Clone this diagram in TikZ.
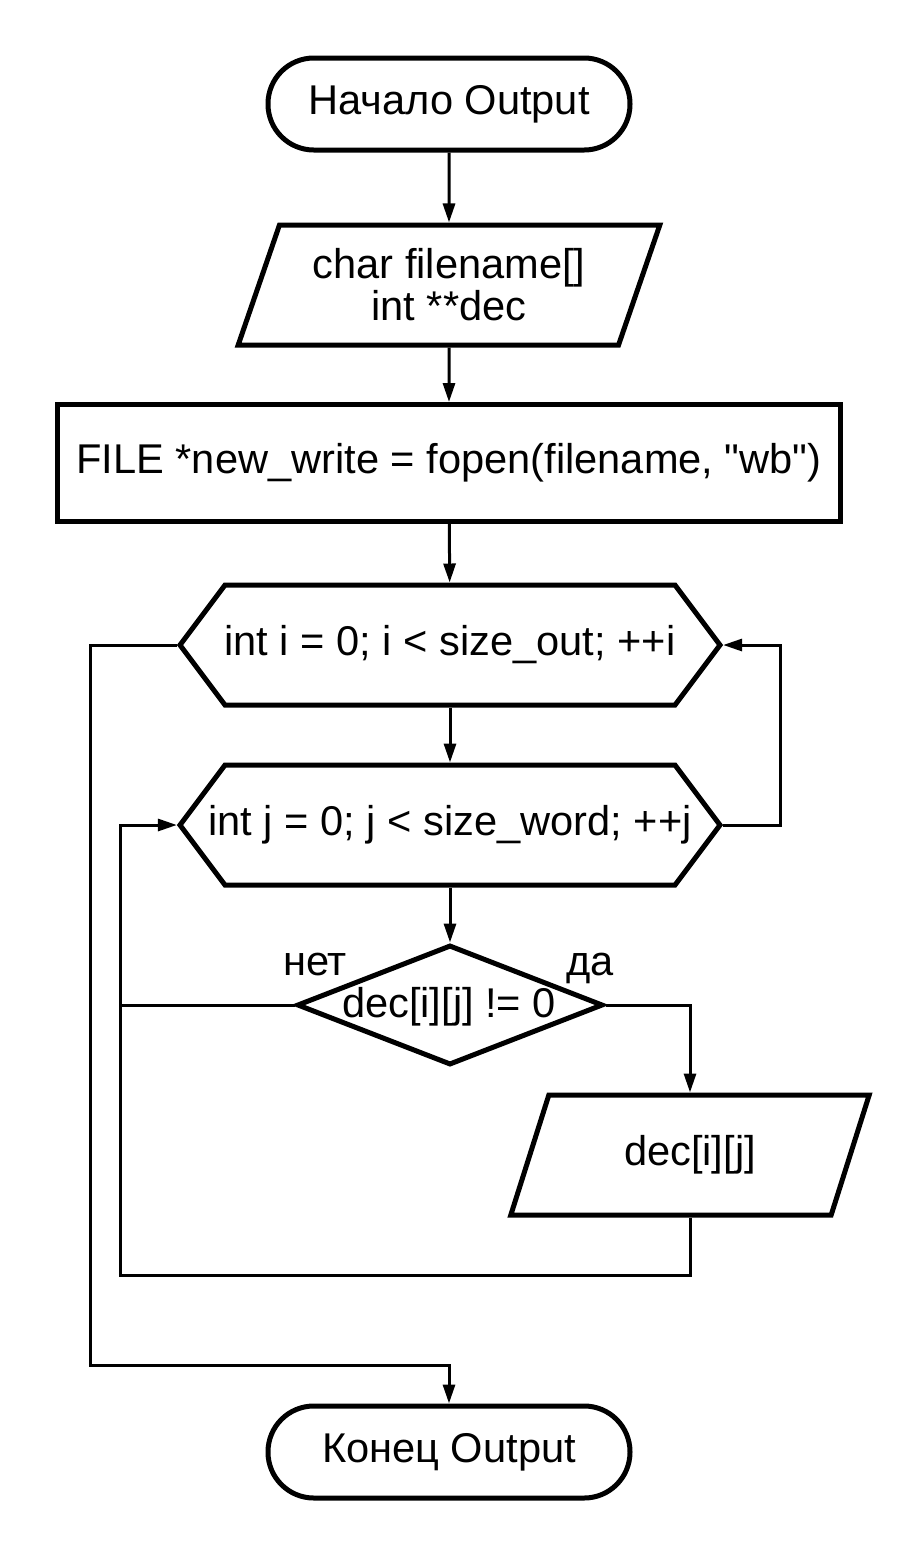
\documentclass[tikz,border=0pt]{standalone}
\usepackage{fontspec}
\setmainfont{Liberation Sans}
\usetikzlibrary{shapes.geometric,shapes.symbols,arrows.meta}

\tikzset{
  base/.style={draw, line width=2.5pt, inner sep=0pt, font=\fontsize{20.8pt}{21pt}\selectfont, align=center},
  term/.style={base, rectangle, rounded corners=22.9pt, minimum width=181pt, minimum height=46pt},
  io/.style={base, trapezium, trapezium left angle=65.4, trapezium right angle=114.6, trapezium stretches=true, minimum height=60pt},
  proc/.style={base, rectangle, minimum width=391.5pt, minimum height=58.5pt},
  loopbox/.style={base, signal, signal to=west and east, signal pointer angle=106.26, minimum width=270pt, minimum height=60pt},
  decide/.style={base, diamond, minimum width=153pt, minimum height=60pt},
  txt/.style={font=\fontsize{20.8pt}{21pt}\selectfont, inner sep=0pt},
  line/.style={line width=1.5pt},
  arr/.style={line, -{Triangle[length=9.5pt,width=6pt]}}
}

\begin{document}
\begin{tikzpicture}[x=0.5pt,y=-0.5pt]
\useasboundingbox (0,0) rectangle (900,1560);
\node (start) [term] at (449,104) {Начало Output};
\node (inp) [io, minimum width=211pt] at (449,285) {char filename[]\\int **dec};
\node (open) [proc] at (449,463) {FILE *new\_write = fopen(filename, \textquotedbl wb\textquotedbl)};
\node (loopi) [loopbox] at (450,645) {};
\node (loopitext) [txt] at (loopi.center) {int i = 0; i < size\_out; ++i};
\node (loopj) [loopbox] at (450,825) {};
\node (loopjtext) [txt] at (loopj.center) {int j = 0; j < size\_word; ++j};
\node (cond) [decide] at (450,1005) {};
\node (condtext) [txt, anchor=base] at (449,1017) {dec[i][j] != 0};
\node (no) [txt, anchor=base] at (315,975) {нет};
\node (yes) [txt, anchor=base] at (590,975) {да};
\node (out) [io, minimum width=180pt] at (690,1155) {dec[i][j]};
\node (stop) [term] at (449,1452) {Конец Output};

\coordinate (jl) at (120,1275);
\coordinate (ir) at (780,825);
\coordinate (il) at (90,1365);

\draw[arr] (start) -- (inp);
\draw[arr] (inp) -- (open);
\draw[arr] (open) -- (loopi);
\draw[arr] (loopi) -- (loopj);
\draw[arr] (loopj) -- (cond);
\draw[arr] (cond.east) -| (out.north);
\draw[arr] (out.south) |- (jl) |- (loopj.west);
\draw[line] (cond.west) -- (cond.west -| jl);
\draw[arr] (loopj.east) -- (ir) |- (loopi.east);
\draw[arr] (loopi.west) -| (il) -| (stop.north);
\end{tikzpicture}
\end{document}
